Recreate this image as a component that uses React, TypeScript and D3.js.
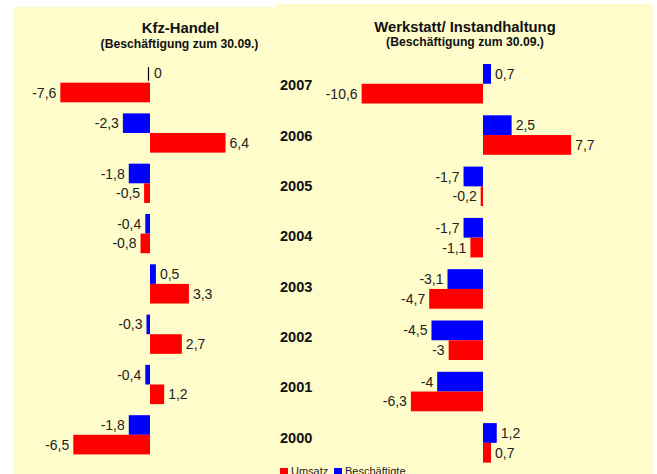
import React from "react";
import * as d3 from "d3";

const years = ["2007", "2006", "2005", "2004", "2003", "2002", "2001", "2000"];
const kfzBeschaeftigte = [0, -2.3, -1.8, -0.4, 0.5, -0.3, -0.4, -1.8];
const kfzUmsatz = [-7.6, 6.4, -0.5, -0.8, 3.3, 2.7, 1.2, -6.5];
const werkBeschaeftigte = [0.7, 2.5, -1.7, -1.7, -3.1, -4.5, -4, 1.2];
const werkUmsatz = [-10.6, 7.7, -0.2, -1.1, -4.7, -3, -6.3, 0.7];

const RED = "#FF0000";
const BLUE = "#0000FF";
const BG = "#FFFCCB";
const FONT = "'Liberation Sans', Arial, Helvetica, sans-serif";

const fmt = (v: number) => String(v).replace(".", ",");

type PanelProps = {
  blue: number[];
  red: number[];
  x: d3.ScaleLinear<number, number>;
  y: d3.ScaleBand<string>;
};

function Panel({ blue, red, x, y }: PanelProps) {
  const inner = d3.scaleBand<string>().domain(["b", "r"]).range([0, y.bandwidth()]).padding(0);
  const x0 = x(0);
  const marks: React.ReactNode[] = [];
  years.forEach((yr, i) => {
    const series = [
      { key: "b", v: blue[i], c: BLUE },
      { key: "r", v: red[i], c: RED },
    ];
    series.forEach((s) => {
      const top = (y(yr) as number) + (inner(s.key) as number);
      const h = inner.bandwidth();
      const xv = x(s.v);
      const left = Math.min(x0, xv);
      const w = Math.abs(xv - x0);
      const cy = top + h / 2;
      if (s.v === 0) {
        marks.push(
          <line key={yr + s.key + "z"} x1={x0 - 1.5} x2={x0 - 1.5} y1={top + 4} y2={top + h - 2} stroke="#000" strokeWidth={1.2} />
        );
      } else {
        marks.push(<rect key={yr + s.key} x={left} y={top} width={w} height={h} fill={s.c} />);
      }
      const neg = s.v < 0;
      marks.push(
        <text
          key={yr + s.key + "t"}
          x={neg ? xv - 4 : Math.max(xv, x0) + 4}
          y={cy}
          dy="0.36em"
          textAnchor={neg ? "end" : "start"}
          fontSize={14}
          fill="#222"
          fontFamily={FONT}
        >
          {fmt(s.v)}
        </text>
      );
    });
  });
  return <g>{marks}</g>;
}

export default function App() {
  const xLeft = d3.scaleLinear().domain([0, 1]).range([150, 161.8]);
  const yLeft = d3.scaleBand<string>().domain(years).range([52, 465.5]).padding(0.22);
  const xRight = d3.scaleLinear().domain([0, 1]).range([483, 494.45]);
  const yRight = d3.scaleBand<string>().domain(years).range([52.2, 474.4]).padding(0.23);

  return (
    <svg
      width={657}
      height={474}
      style={{ position: "absolute", left: 0, top: 0, background: "#fff" }}
      fontFamily={FONT}
    >
      <rect x={13} y={7} width={263} height={467} fill={BG} />
      <rect x={276} y={4} width={377} height={470} fill={BG} />

      <text x={180.5} y={32.5} textAnchor="middle" fontSize={14.8} fontWeight="bold" fill="#111">
        Kfz-Handel
      </text>
      <text x={179.5} y={47.5} textAnchor="middle" fontSize={12.2} fontWeight="bold" fill="#111">
        (Beschäftigung zum 30.09.)
      </text>
      <text x={465} y={31.5} textAnchor="middle" fontSize={14.8} fontWeight="bold" fill="#111">
        Werkstatt/ Instandhaltung
      </text>
      <text x={465} y={45.5} textAnchor="middle" fontSize={12.2} fontWeight="bold" fill="#111">
        (Beschäftigung zum 30.09.)
      </text>

      <Panel blue={kfzBeschaeftigte} red={kfzUmsatz} x={xLeft} y={yLeft} />
      <Panel blue={werkBeschaeftigte} red={werkUmsatz} x={xRight} y={yRight} />

      {years.map((yr) => (
        <text
          key={yr}
          x={280}
          y={(yLeft(yr) as number) + yLeft.bandwidth() / 2 + 2.5}
          dy="0.36em"
          fontSize={14.6}
          fontWeight="bold"
          fill="#111"
        >
          {yr}
        </text>
      ))}

      <rect x={280} y={468} width={8} height={8} fill={RED} />
      <text x={291} y={475} fontSize={11} fill="#222">Umsatz</text>
      <rect x={334} y={468} width={8} height={8} fill={BLUE} />
      <text x={345} y={475} fontSize={11} fill="#222">Beschäftigte</text>
    </svg>
  );
}
